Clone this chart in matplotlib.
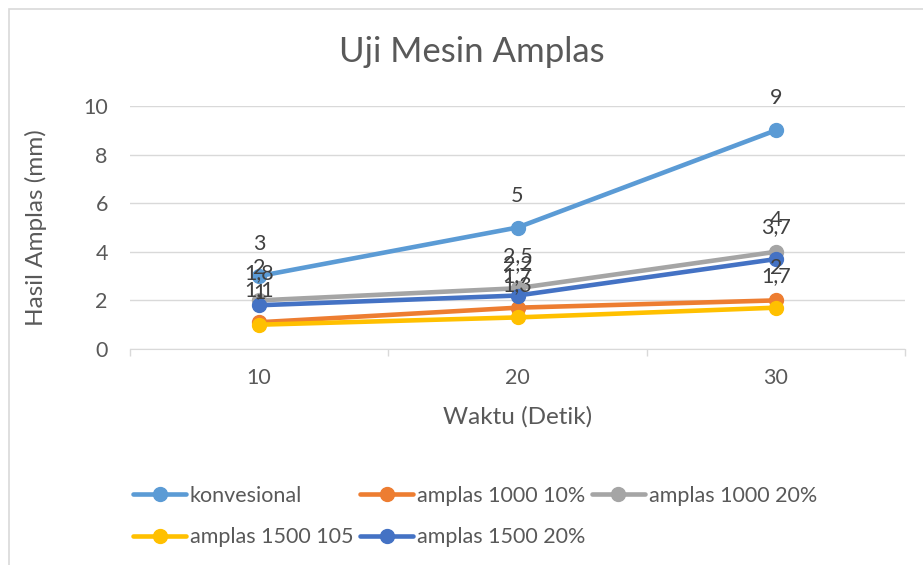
import matplotlib
matplotlib.use("Agg")
import matplotlib.pyplot as plt
from matplotlib.patches import Rectangle

plt.rcParams['font.family'] = ['Lato', 'DejaVu Sans']

categories = ["10", "20", "30"]
series_names = ["konvesional", "amplas 1000 10%", "amplas 1000 20%", "amplas 1500 105", "amplas 1500 20%"]
konvesional = [3, 5, 9]
amplas_1000_10 = [1.1, 1.7, 2]
amplas_1000_20 = [2, 2.5, 4]
amplas_1500_105 = [1, 1.3, 1.7]
amplas_1500_20 = [1.8, 2.2, 3.7]
series_values = [konvesional, amplas_1000_10, amplas_1000_20, amplas_1500_105, amplas_1500_20]
colors = ["#5b9bd5", "#ed7d31", "#a5a5a5", "#ffc000", "#4472c4"]

W, H = 923, 565
fig = plt.figure(figsize=(W / 100, H / 100), dpi=100)
# outer frame
fig.patches.append(Rectangle((9 / W, -0.1), 1.2, (H - 9) / H + 0.1, transform=fig.transFigure,
                             fill=False, edgecolor="#d9d9d9", linewidth=1.2))

ax = fig.add_axes([130 / W, 1 - 349 / H, (905 - 130) / W, (349 - 106) / H])
x = list(range(len(categories)))

def fmt(v):
    return ("%g" % v).replace(".", ",")

for name, vals, c in zip(series_names, series_values, colors):
    ax.plot(x, vals, color=c, lw=3.3, marker="o", markersize=10, label=name, solid_capstyle="round")
    for xi, v in zip(x, vals):
        ax.annotate(fmt(v), (xi, v), xytext=(0, 23), textcoords="offset points",
                    ha="center", va="center", fontsize=15.5, color="#404040")

ax.set_xlim(-0.5, 2.5)
ax.set_ylim(0, 10)
ax.set_yticks([0, 2, 4, 6, 8, 10])
ax.set_xticks(x)
ax.set_xticklabels(categories)
ax.set_xticks([-0.5, 0.5, 1.5, 2.5], minor=True)
ax.tick_params(axis="x", which="major", length=0, pad=14, labelsize=15.5, labelcolor="#595959")
ax.tick_params(axis="x", which="minor", length=5, color="#d9d9d9", width=1)
ax.tick_params(axis="y", length=0, pad=16, labelsize=15.5, labelcolor="#595959")
ax.grid(axis="y", color="#d9d9d9", lw=1)
ax.set_axisbelow(True)
for s in ["top", "right", "left"]:
    ax.spines[s].set_visible(False)
ax.spines["bottom"].set_color("#d9d9d9")
ax.set_xlabel("Waktu (Detik)", fontsize=17.5, color="#595959", labelpad=13)
ax.set_ylabel("Hasil Amplas (mm)", fontsize=17.5, color="#595959", labelpad=26)

fig.text(472 / W, 1 - 52 / H, "Uji Mesin Amplas", ha="center", va="center", fontsize=25, color="#595959")

handles, labels = ax.get_legend_handles_labels()
order = [0, 3, 1, 4, 2]
leg = fig.legend([handles[i] for i in order], [labels[i] for i in order], ncol=3,
                 loc="upper left", bbox_to_anchor=(124 / W, 1 - 477 / H), frameon=False,
                 fontsize=15.5, handlelength=2.5, handletextpad=0.15, columnspacing=0.3,
                 labelspacing=1.0, borderaxespad=0)
for t in leg.get_texts():
    t.set_color("#595959")

fig.savefig("out.png", dpi=100)
